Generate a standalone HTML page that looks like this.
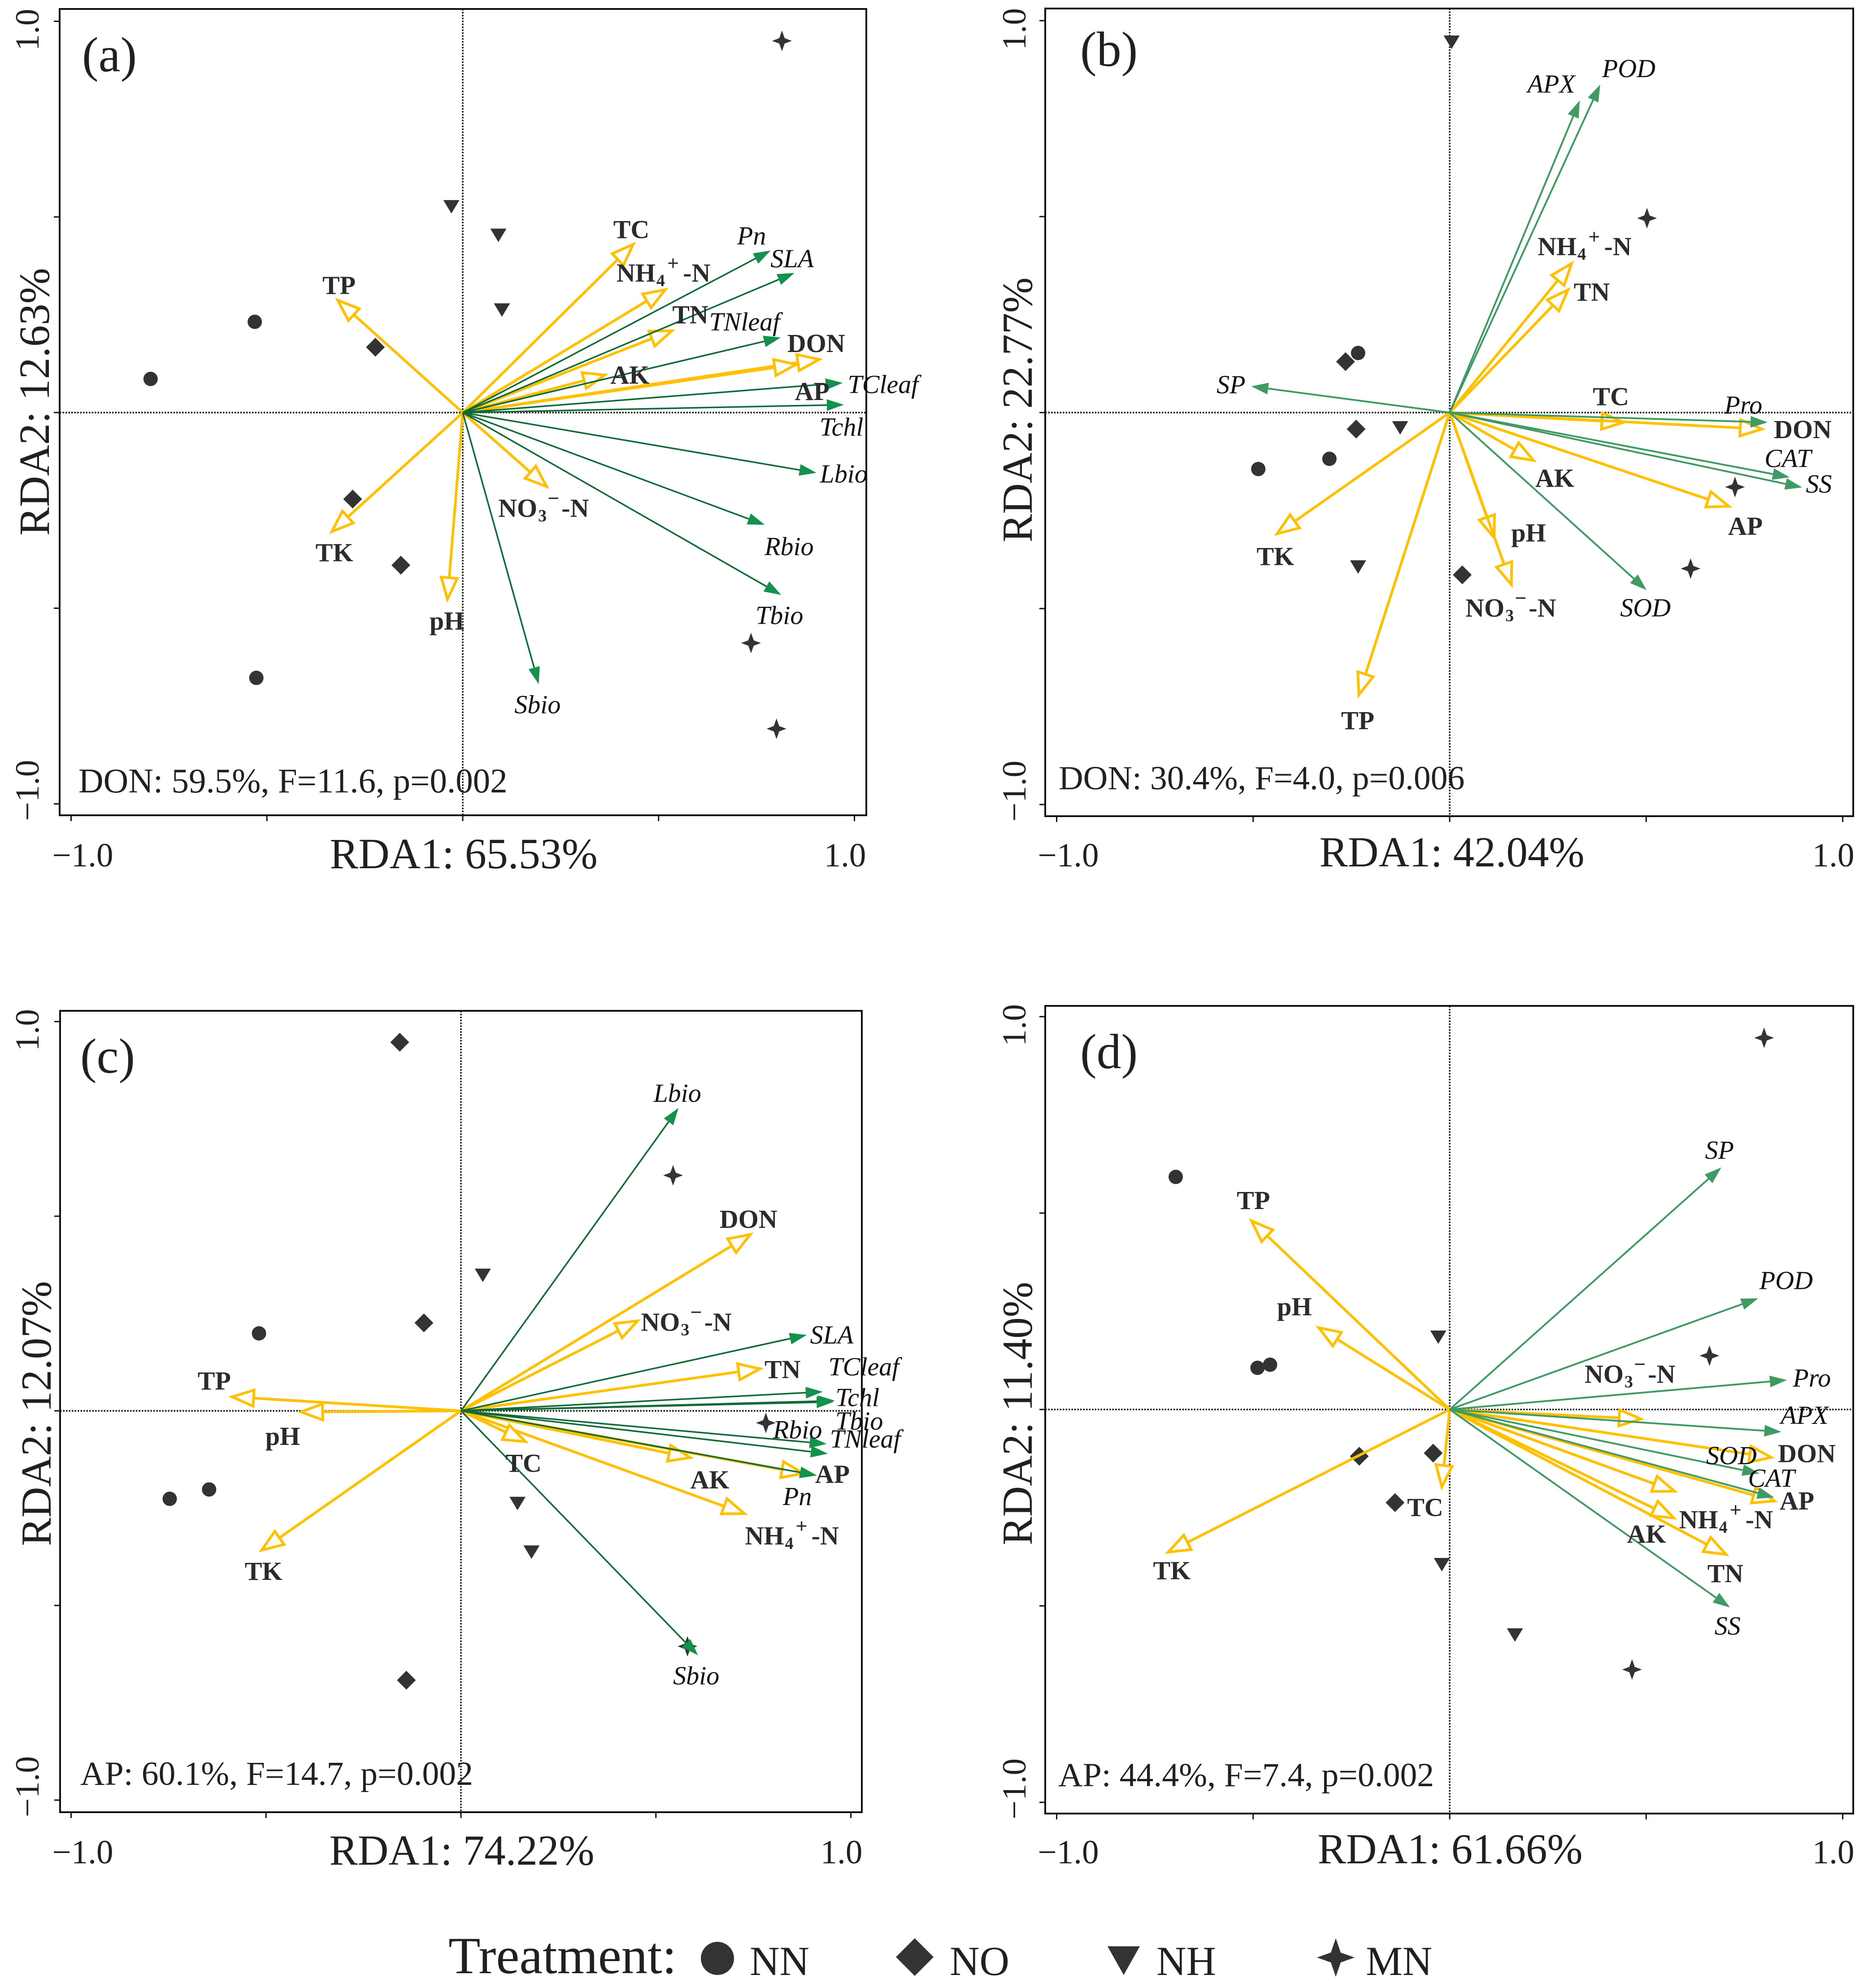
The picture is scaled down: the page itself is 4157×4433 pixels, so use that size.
<!DOCTYPE html>
<html lang="en">
<head>
<meta charset="utf-8">
<title>RDA biplots</title>
<style>
html,body{margin:0;padding:0;background:#fff}
svg{display:block}
text{font-family:"Liberation Serif",serif;fill:#231f20}
.title{font-size:96px}
.title-narrow{font-size:95px}
.tick{font-size:75px}
.note{font-size:77px}
.note-small{font-size:75.7px}
.tag{font-size:110px}
.legend{font-size:92px}
.legend-title{font-size:117px}
.soil{font-size:58px;font-weight:bold;fill:#2b2b2b}
.plant{font-size:58px;font-style:italic;fill:#111}
</style>
</head>
<body>
<svg id="chart" xmlns="http://www.w3.org/2000/svg" width="4157" height="4433" viewBox="0 0 4157 4433">
<rect x="0" y="0" width="4157" height="4433" fill="#fff"/>

<g id="panel-a">
<text class="tag" x="183" y="159">(a)</text>
<text class="title" x="1034" y="1936" text-anchor="middle">RDA1: 65.53%</text>
<text class="title" transform="translate(109,896) rotate(-90)" text-anchor="middle">RDA2: 12.63%</text>
<text class="note" x="175" y="1767">DON: 59.5%, F=11.6, p=0.002</text>
</g>

<g id="panel-b">
<text class="tag" x="2409" y="147">(b)</text>
<text class="title-narrow" x="3238" y="1932" text-anchor="middle">RDA1: 42.04%</text>
<text class="title-narrow" transform="translate(2301,914) rotate(-90)" text-anchor="middle">RDA2: 22.77%</text>
<text class="note-small" x="2361" y="1760">DON: 30.4%, F=4.0, p=0.006</text>
</g>

<g id="panel-c">
<text class="tag" x="179" y="2392">(c)</text>
<text class="title-narrow" x="1030" y="4158" text-anchor="middle">RDA1: 74.22%</text>
<text class="title-narrow" transform="translate(113,3152) rotate(-90)" text-anchor="middle">RDA2: 12.07%</text>
<text class="note-small" x="179" y="3980">AP: 60.1%, F=14.7, p=0.002</text>
</g>

<g id="panel-d">
<text class="tag" x="2409" y="2382">(d)</text>
<text class="title-narrow" x="3234" y="4155" text-anchor="middle">RDA1: 61.66%</text>
<text class="title-narrow" transform="translate(2301,3152) rotate(-90)" text-anchor="middle">RDA2: 11.40%</text>
<text class="note-small" x="2360" y="3983">AP: 44.4%, F=7.4, p=0.002</text>
</g>

<g>
<text class="legend-title" x="1000" y="4400">Treatment:</text>
<circle cx="1600" cy="4367" r="37" fill="#333"/>
<text class="legend" x="1672" y="4404">NN</text>
<polygon points="2040,4322 2082,4364 2040,4406 1998,4364" fill="#333"/>
<text class="legend" x="2118" y="4404">NO</text>
<polygon points="2470,4340 2542,4340 2506,4404" fill="#333"/>
<text class="legend" x="2579" y="4404">NH</text>
<polygon points="2979,4322 2990,4354 3021,4365 2990,4376 2979,4408 2968,4376 2937,4365 2968,4354" fill="#333"/>
<text class="legend" x="3046" y="4404">MN</text>
</g>
</svg>

<script>
// ---------- Shared axis values ----------
const axisTicks = [-1, -0.5, 0, 0.5, 1];
const tickLabels = ["\u22121.0", "1.0"];

// ---------- Panel (a) ----------
const aSoilNames = ["TC", "NH4", "TN", "AK", "DON", "AP", "TP", "TK", "pH", "NO3"];
const aSoilX = [0.435, 0.517, 0.534, 0.363, 0.910, 0.851, -0.319, -0.334, -0.039, 0.214];
const aSoilY = [0.430, 0.314, 0.209, 0.096, 0.136, 0.123, 0.287, -0.304, -0.477, -0.189];
const aPlantNames = ["Pn", "SLA", "TNleaf", "TCleaf", "Tchl", "Lbio", "Rbio", "Tbio", "Sbio"];
const aPlantX = [0.786, 0.847, 0.812, 0.970, 0.973, 0.903, 0.771, 0.813, 0.194];
const aPlantY = [0.414, 0.357, 0.192, 0.076, 0.020, -0.154, -0.287, -0.466, -0.694];
const aNNX = [-0.531, -0.797, -0.527];
const aNNY = [0.232, 0.086, -0.678];
const aNOX = [-0.223, -0.281, -0.158];
const aNOY = [0.167, -0.221, -0.390];
const aNHX = [-0.029, 0.091, 0.100];
const aNHY = [0.526, 0.453, 0.262];
const aMNX = [0.815, 0.736, 0.801];
const aMNY = [0.950, -0.589, -0.808];

// ---------- Panel (b) ----------
const bSoilNames = ["NH4", "TN", "TC", "DON", "AP", "AK", "pH", "NO3", "TP", "TK"];
const bSoilX = [0.310, 0.301, 0.442, 0.794, 0.710, 0.213, 0.113, 0.157, -0.231, -0.439];
const bSoilY = [0.380, 0.313, -0.025, -0.042, -0.239, -0.122, -0.319, -0.439, -0.720, -0.309];
const bPlantNames = ["APX", "POD", "SP", "Pro", "CAT", "SS", "SOD"];
const bPlantX = [0.331, 0.383, -0.505, 0.809, 0.865, 0.897, 0.501];
const bPlantY = [0.796, 0.837, 0.067, -0.025, -0.165, -0.191, -0.453];
const bNNX = [-0.233, -0.306, -0.487];
const bNNY = [0.152, -0.118, -0.144];
const bNOX = [-0.265, -0.238, 0.032];
const bNOY = [0.130, -0.042, -0.414];
const bNHX = [0.005, -0.126, -0.233];
const bNHY = [0.945, -0.039, -0.394];
const bMNX = [0.502, 0.726, 0.613];
const bMNY = [0.496, -0.190, -0.398];

// ---------- Panel (c) ----------
const cSoilNames = ["DON", "NO3", "TN", "AK", "AP", "NH4", "TC", "TP", "pH", "TK"];
const cSoilX = [0.742, 0.453, 0.767, 0.588, 0.878, 0.727, 0.165, -0.587, -0.410, -0.511];
const cSoilY = [0.453, 0.231, 0.108, -0.120, -0.161, -0.264, -0.079, 0.036, -0.003, -0.358];
const cPlantNames = ["Lbio", "SLA", "TCleaf", "Tchl", "Tbio", "Rbio", "TNleaf", "Pn", "Sbio"];
const cPlantX = [0.558, 0.887, 0.928, 0.959, 0.956, 0.938, 0.941, 0.913, 0.608];
const cPlantY = [0.778, 0.195, 0.049, 0.026, 0.023, -0.085, -0.110, -0.166, -0.628];
const cNNX = [-0.518, -0.646, -0.747];
const cNNY = [0.199, -0.202, -0.226];
const cNOX = [-0.157, -0.095, -0.140];
const cNOY = [0.947, 0.226, -0.692];
const cNHX = [0.056, 0.145, 0.181];
const cNHY = [0.348, -0.238, -0.363];
const cMNX = [0.544, 0.782, 0.581];
const cMNY = [0.605, -0.031, -0.605];

// ---------- Panel (d) ----------
const dSoilNames = ["TP", "pH", "NO3", "DON", "AP", "AK", "NH4", "TN", "TC", "TK"];
const dSoilX = [-0.504, -0.333, 0.486, 0.818, 0.826, 0.572, 0.570, 0.703, -0.020, -0.716];
const dSoilY = [0.480, 0.208, -0.024, -0.122, -0.233, -0.208, -0.276, -0.369, -0.197, -0.363];
const dPlantNames = ["SP", "POD", "Pro", "APX", "SOD", "CAT", "SS"];
const dPlantX = [0.691, 0.785, 0.858, 0.844, 0.788, 0.826, 0.713];
const dPlantY = [0.616, 0.283, 0.075, -0.057, -0.163, -0.224, -0.504];
const dNNX = [-0.697, -0.489, -0.457];
const dNNY = [0.592, 0.106, 0.114];
const dNOX = [-0.230, -0.042, -0.139];
const dNOY = [-0.119, -0.111, -0.237];
const dNHX = [-0.029, -0.020, 0.166];
const dNHY = [0.184, -0.395, -0.574];
const dMNX = [0.800, 0.661, 0.464];
const dMNY = [0.946, 0.137, -0.662];

// ---------- Drawing ----------
const SVG_NS = "http://www.w3.org/2000/svg";
const YELLOW = "#ffc000";

function slug(s) {
  return String(s).toLowerCase().replace(/[^a-z0-9]+/g, "-");
}

function make(tag, parent) {
  const el = document.createElementNS(SVG_NS, tag);
  parent.appendChild(el);
  return el;
}

function set(el, attrs) {
  Object.keys(attrs).forEach(function (k) { el.setAttribute(k, attrs[k]); });
  return el;
}

function drawFrame(p) {
  const g = document.getElementById(p.id);
  const sx = function (v) { return p.x0 + v * p.xu; };
  const sy = function (v) { return p.y0 - v * p.yu; };

  const frame = make("rect", g);
  
  
  set(frame, { x: p.l, y: p.t, width: p.r - p.l, height: p.b - p.t, fill: "none", stroke: "#111", "stroke-width": 4 });

  const zeroV = make("line", g);
  
  
  set(zeroV, { x1: sx(0), x2: sx(0), y1: p.t, y2: p.b, stroke: "#111", "stroke-width": 3.5, "stroke-dasharray": "3.5 3" });

  const zeroH = make("line", g);
  
  
  set(zeroH, { x1: p.l, x2: p.r, y1: sy(0), y2: sy(0), stroke: "#111", "stroke-width": 3.5, "stroke-dasharray": "3.5 3" });

  axisTicks.forEach(function (v) {
    const tx = make("line", g);
    
    
    set(tx, { x1: sx(v), x2: sx(v), y1: p.b, y2: p.b + 13, stroke: "#111", "stroke-width": 3 });
    const ty = make("line", g);
    
    
    set(ty, { x1: p.l - 13, x2: p.l, y1: sy(v), y2: sy(v), stroke: "#111", "stroke-width": 3 });
  });

  const xl0 = make("text", g);
  
  
  set(xl0, { class: "tick", x: sx(-1) + 26, y: p.xTickBase, "text-anchor": "middle" });
  xl0.textContent = tickLabels[0];

  const xl1 = make("text", g);
  
  
  set(xl1, { class: "tick", x: sx(1) - 21, y: p.xTickBase, "text-anchor": "middle" });
  xl1.textContent = tickLabels[1];

  const yl1 = make("text", g);
  
  
  set(yl1, { class: "tick", transform: "translate(" + p.yTickBase + "," + (sy(1) + 19) + ") rotate(-90)", "text-anchor": "middle" });
  yl1.textContent = tickLabels[1];

  const yl0 = make("text", g);
  
  
  set(yl0, { class: "tick", transform: "translate(" + p.yTickBase + "," + (sy(-1) - 30) + ") rotate(-90)", "text-anchor": "middle" });
  yl0.textContent = tickLabels[0];
}

function drawMarker(p, kind, vx, vy) {
  const g = document.getElementById(p.id);
  const x = p.x0 + vx * p.xu;
  const y = p.y0 - vy * p.yu;
  let el;
  if (kind === "NN") {
    el = make("circle", g);
    set(el, { cx: x, cy: y, r: 16 });
  } else if (kind === "NO") {
    el = make("polygon", g);
    set(el, { points: [x, y - 21, x + 21, y, x, y + 21, x - 21, y].join(" ") });
  } else if (kind === "NH") {
    el = make("polygon", g);
    set(el, { points: [x - 18, y - 15, x + 18, y - 15, x, y + 15].join(" ") });
  } else {
    el = make("polygon", g);
    set(el, { points: [x, y - 23, x + 6, y - 6, x + 22, y, x + 6, y + 6, x, y + 23, x - 6, y + 6, x - 22, y, x - 6, y - 6].join(" ") });
  }
  
  
  el.setAttribute("fill", "#333");
}

function headPoints(tx, ty, ux, uy, len, half) {
  const bx = tx - ux * len;
  const by = ty - uy * len;
  return [tx, ty, bx - uy * half, by + ux * half, bx + uy * half, by - ux * half].join(" ");
}

function drawArrow(p, name, vx, vy, soil) {
  const g = document.getElementById(p.id);
  const ox = p.x0;
  const oy = p.y0;
  const tx = p.x0 + vx * p.xu;
  const ty = p.y0 - vy * p.yu;
  const d = Math.hypot(tx - ox, ty - oy) || 1;
  const ux = (tx - ox) / d;
  const uy = (ty - oy) / d;
  const len = soil ? 48 : 38;
  const half = soil ? 18 : 13;

  const arrow = make("g", g);
  
  

  const shaft = make("line", arrow);
  
  
  set(shaft, {
    x1: ox, y1: oy, x2: tx - ux * len, y2: ty - uy * len,
    stroke: soil ? YELLOW : p.line, "stroke-width": soil ? 6 : p.lineW
  });

  const head = make("polygon", arrow);
  
  
  set(head, {
    points: headPoints(tx, ty, ux, uy, len, half),
    fill: soil ? "#fff" : p.head,
    stroke: soil ? YELLOW : "none",
    "stroke-width": soil ? 6 : 0,
    "stroke-linejoin": "miter"
  });
}

function addRun(text, t, dy, dx, scale) {
  const s = make("tspan", text);
  if (dy) s.setAttribute("dy", dy);
  if (dx) s.setAttribute("dx", dx);
  if (scale) s.setAttribute("font-size", scale);
  s.textContent = t;
}

function drawLabel(p, name, vx, vy, soil) {
  const g = document.getElementById(p.id);
  const off = p.nudge[name] || [0, 0];
  const size = 58;
  const x = p.x0 + vx * p.xu + off[0] * 1.3255;
  const y = p.y0 - vy * p.yu + off[1] * p.ky + size * 0.33;
  const text = make("text", g);
  
  
  set(text, { class: soil ? "soil" : "plant", x: x, y: y, "text-anchor": "middle" });
  if (name === "NH4") {
    addRun(text, "NH");
    addRun(text, "4", 10, 2, 38);
    addRun(text, "+", -36, 5, 46);
    addRun(text, "-N", 26, 9);
  } else if (name === "NO3") {
    addRun(text, "NO");
    addRun(text, "3", 10, 2, 38);
    addRun(text, "\u2212", -36, 2, 46);
    addRun(text, "-N", 26, 5);
  } else {
    text.textContent = name;
  }
}

function drawPanel(p, d) {
  drawFrame(p);
  ["NN", "NO", "NH", "MN"].forEach(function (kind) {
    d[kind + "X"].forEach(function (vx, i) { drawMarker(p, kind, vx, d[kind + "Y"][i]); });
  });
  d.soilNames.forEach(function (n, i) { drawArrow(p, n, d.soilX[i], d.soilY[i], true); });
  d.plantNames.forEach(function (n, i) { drawArrow(p, n, d.plantX[i], d.plantY[i], false); });
  d.soilNames.forEach(function (n, i) { drawLabel(p, n, d.soilX[i], d.soilY[i], true); });
  d.plantNames.forEach(function (n, i) { drawLabel(p, n, d.plantX[i], d.plantY[i], false); });
}

drawPanel({
  id: "panel-a", key: "a", x0: 1032, xu: 873.5, y0: 920, yu: 872.5,
  l: 133, r: 1932, t: 20, b: 1818, xTickBase: 1932, yTickBase: 86, ky: 1.2755,
  line: "#0f6a37", head: "#14914d", lineW: 3.5,
  nudge: {
    TC: [-3, -26], NH4: [-3, -29], TN: [31, -28], AK: [42, 0], DON: [-5, -28], AP: [27, 47],
    TP: [2, -26], TK: [4, 37], pH: [-1, 38], NO3: [-5, 38],
    Pn: [-32, -26], SLA: [-4, -25], TNleaf: [-61, -27], TCleaf: [68, 3], Tchl: [-4, 39],
    Lbio: [46, 2], Rbio: [41, 38], Tbio: [-3, 36], Sbio: [-2, 36]
  }
}, {
  soilNames: aSoilNames, soilX: aSoilX, soilY: aSoilY,
  plantNames: aPlantNames, plantX: aPlantX, plantY: aPlantY,
  NNX: aNNX, NNY: aNNY, NOX: aNOX, NOY: aNOY, NHX: aNHX, NHY: aNHY, MNX: aMNX, MNY: aMNY
});

drawPanel({
  id: "panel-b", key: "b", x0: 3233, xu: 876.5, y0: 920, yu: 874,
  l: 2331, r: 4133, t: 19, b: 1820, xTickBase: 1932, yTickBase: 2287, ky: 1.2755,
  line: "#3f9a64", head: "#3f9a64", lineW: 4,
  nudge: {
    NH4: [22, -30], TN: [40, 4], TC: [-21, -45], DON: [69, 1], AP: [28, 35], AK: [36, 31],
    pH: [58, -8], NO3: [-1, 41], TP: [-2, 45], TK: [-3, 40],
    APX: [-48, -29], POD: [48, -28], SP: [-34, -3], Pro: [-41, -30], CAT: [-3, -33],
    SS: [28, -6], SOD: [-2, 31]
  }
}, {
  soilNames: bSoilNames, soilX: bSoilX, soilY: bSoilY,
  plantNames: bPlantNames, plantX: bPlantX, plantY: bPlantY,
  NNX: bNNX, NNY: bNNY, NOX: bNOX, NOY: bNOY, NHX: bNHX, NHY: bNHY, MNX: bMNX, MNY: bMNY
});

drawPanel({
  id: "panel-c", key: "c", x0: 1028, xu: 869.5, y0: 3146, yu: 868,
  l: 134, r: 1922, t: 2254, b: 4041, xTickBase: 4155, yTickBase: 86, ky: 1.4241,
  line: "#0f6a37", head: "#14914d", lineW: 3.5,
  nudge: {
    DON: [-3, -24], NO3: [82, 2], TN: [38, 1], AK: [33, 35], AP: [49, 1], NH4: [80, 35],
    TC: [-3, 34], TP: [-30, -25], pH: [-31, 38], TK: [3, 33],
    Lbio: [-2, -23], SLA: [42, 0], TCleaf: [69, -39], Tchl: [38, -5], Tbio: [43, 30],
    Rbio: [-49, -22], TNleaf: [63, -23], Pn: [-33, 33], Sbio: [-3, 32]
  }
}, {
  soilNames: cSoilNames, soilX: cSoilX, soilY: cSoilY,
  plantNames: cPlantNames, plantX: cPlantX, plantY: cPlantY,
  NNX: cNNX, NNY: cNNY, NOX: cNOX, NOY: cNOY, NHX: cNHX, NHY: cNHY, MNX: cMNX, MNY: cMNY
});

drawPanel({
  id: "panel-d", key: "d", x0: 3233, xu: 876.5, y0: 3143, yu: 876,
  l: 2331, r: 4133, t: 2243, b: 4044, xTickBase: 4155, yTickBase: 2287, ky: 1.4241,
  line: "#3f9a64", head: "#3f9a64", lineW: 4,
  nudge: {
    NO3: [-18, -70], DON: [60, -6], AP: [38, 0], AK: [-47, 67], NH4: [88, 3], TN: [-1, 30],
    TC: [-28, 32], TP: [3, -32], pH: [-41, -33], TK: [6, 29],
    SP: [-3, -27], POD: [47, -28], Pro: [42, -3], APX: [39, -26], SOD: [-47, -28],
    CAT: [-5, -30], SS: [-4, 29]
  }
}, {
  soilNames: dSoilNames, soilX: dSoilX, soilY: dSoilY,
  plantNames: dPlantNames, plantX: dPlantX, plantY: dPlantY,
  NNX: dNNX, NNY: dNNY, NOX: dNOX, NOY: dNOY, NHX: dNHX, NHY: dNHY, MNX: dMNX, MNY: dMNY
});
</script>
</body>
</html>
